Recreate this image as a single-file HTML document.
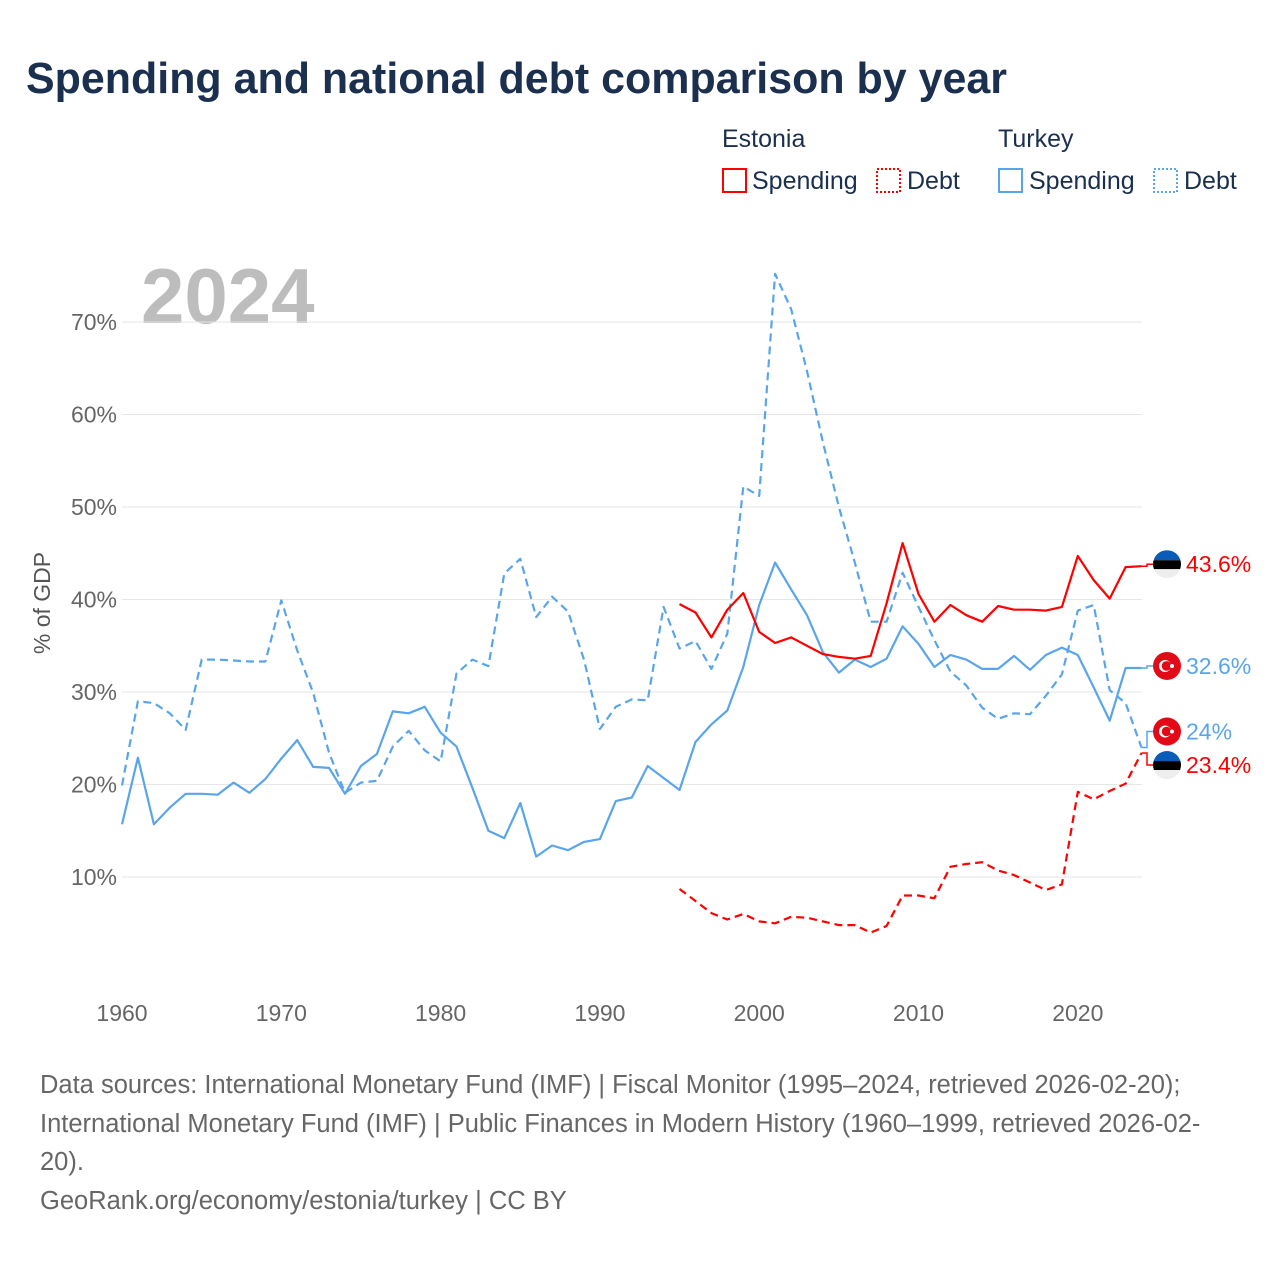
<!DOCTYPE html>
<html><head><meta charset="utf-8"><style>
body{margin:0;background:#fff;font-family:"Liberation Sans",sans-serif}
#wrap{position:relative;width:1280px;height:1280px;overflow:hidden}
</style></head><body><div id="wrap">
<svg id="svg" width="1280" height="1280" xmlns="http://www.w3.org/2000/svg">
<text x="26" y="93" font-size="44" font-weight="bold" fill="#1b2f4e" textLength="981" lengthAdjust="spacingAndGlyphs">Spending and national debt comparison by year</text>
<g font-size="25" fill="#1b2f4e">
<text x="722" y="147">Estonia</text>
<text x="998" y="147">Turkey</text>
<g><rect x="723" y="169" width="23" height="23" fill="none" stroke="#f00" stroke-width="2"/><text x="752" y="189">Spending</text></g>
<g><rect x="877" y="169" width="23" height="23" fill="none" stroke="#f00" stroke-width="2" stroke-dasharray="2,2"/><text x="907" y="189">Debt</text></g>
<g><rect x="999" y="169" width="23" height="23" fill="none" stroke="#5aa5ea" stroke-width="2"/><text x="1029" y="189">Spending</text></g>
<g><rect x="1154" y="169" width="23" height="23" fill="none" stroke="#5aa5ea" stroke-width="2" stroke-dasharray="2,2"/><text x="1184" y="189">Debt</text></g>
</g>
<text x="141" y="323" font-size="78" font-weight="bold" fill="#bdbdbd">2024</text>
<text transform="translate(50,603) rotate(-90)" text-anchor="middle" font-size="23" fill="#555">% of GDP</text>
<g id="grid"></g><g id="series"></g><g id="labels"></g>
<g font-size="25.5" fill="#666">
<text x="40" y="1093">Data sources: International Monetary Fund (IMF) | Fiscal Monitor (1995–2024, retrieved 2026-02-20);</text>
<text x="40" y="1132">International Monetary Fund (IMF) | Public Finances in Modern History (1960–1999, retrieved 2026-02-</text>
<text x="40" y="1170">20).</text>
<text x="40" y="1209">GeoRank.org/economy/estonia/turkey | CC BY</text>
</g>
</svg></div>
<script>
const yTicks=[10,20,30,40,50,60,70];
const xTicks=[1960,1970,1980,1990,2000,2010,2020];
const trYears=[1960,1961,1962,1963,1964,1965,1966,1967,1968,1969,1970,1971,1972,1973,1974,1975,1976,1977,1978,1979,1980,1981,1982,1983,1984,1985,1986,1987,1988,1989,1990,1991,1992,1993,1994,1995,1996,1997,1998,1999,2000,2001,2002,2003,2004,2005,2006,2007,2008,2009,2010,2011,2012,2013,2014,2015,2016,2017,2018,2019,2020,2021,2022,2023,2024];
const trSpending=[15.7,22.9,15.7,17.5,19.0,19.0,18.9,20.2,19.1,20.6,22.8,24.8,21.9,21.8,19.0,22.0,23.3,27.9,27.7,28.4,25.6,24.1,19.6,15.0,14.2,18.0,12.2,13.4,12.9,13.8,14.1,18.2,18.6,22.0,20.7,19.4,24.6,26.5,28.0,32.7,39.4,44.0,41.1,38.3,34.3,32.1,33.5,32.7,33.6,37.1,35.2,32.7,34.0,33.5,32.5,32.5,33.9,32.4,34.0,34.8,34.0,30.5,26.9,32.6,32.6];
const trDebt=[19.9,29.0,28.8,27.7,25.9,33.5,33.5,33.4,33.3,33.3,39.9,34.5,29.9,23.4,19.1,20.2,20.4,24.1,25.8,23.7,22.5,32.0,33.5,32.8,42.8,44.4,38.1,40.3,38.7,33.5,26.0,28.4,29.2,29.1,39.2,34.7,35.5,32.5,36.3,52.2,51.2,75.2,71.4,64.7,57.0,50.0,44.0,37.6,37.6,42.9,39.2,35.6,32.2,30.7,28.3,27.1,27.7,27.6,29.6,31.9,38.8,39.4,30.2,28.8,24.0];
const eeYears=[1995,1996,1997,1998,1999,2000,2001,2002,2003,2004,2005,2006,2007,2008,2009,2010,2011,2012,2013,2014,2015,2016,2017,2018,2019,2020,2021,2022,2023,2024];
const eeSpending=[39.5,38.6,35.9,38.9,40.7,36.5,35.3,35.9,35.0,34.1,33.8,33.6,33.9,39.6,46.1,40.6,37.6,39.4,38.3,37.6,39.3,38.9,38.9,38.8,39.2,44.7,42.1,40.1,43.5,43.6];
const eeDebt=[8.7,7.4,6.1,5.4,6.0,5.2,5.0,5.7,5.6,5.2,4.8,4.8,4.0,4.7,8.0,8.0,7.7,11.1,11.4,11.6,10.7,10.2,9.4,8.6,9.2,19.2,18.4,19.3,20.1,23.4];
const NS='http://www.w3.org/2000/svg';
const X=y=>122+(y-1960)*15.93;
const Y=v=>969.5-v*9.25;
function mk(tag,attrs,parent){const e=document.createElementNS(NS,tag);for(const k in attrs)e.setAttribute(k,attrs[k]);parent.appendChild(e);return e;}
const grid=document.getElementById('grid');
yTicks.forEach(t=>{
 const l=mk('line',{x1:122,x2:1142,y1:Y(t),y2:Y(t),stroke:'#e6e6e6','stroke-width':1},grid);
 
 
 const tx=mk('text',{x:117,y:Y(t)+8,'text-anchor':'end','font-size':23,fill:'#666'},grid);
 tx.textContent=t+'%';
 
 
});
xTicks.forEach(t=>{
 const tx=mk('text',{x:X(t),y:1021,'text-anchor':'middle','font-size':23,fill:'#666'},grid);
 tx.textContent=t;
 
 
});
const ser=document.getElementById('series');
function line(years,vals,color,dash,name){
 const d=years.map((y,i)=>(i?'L':'M')+X(y).toFixed(1)+','+Y(vals[i]).toFixed(1)).join('');
 const p=mk('path',{d:d,fill:'none',stroke:color,'stroke-width':2.2,'stroke-linejoin':'round'},ser);
 if(dash)p.setAttribute('stroke-dasharray','8,5');
 
 
}
line(trYears,trDebt,'#5aa5ea',true,'turkey-debt-line');
line(trYears,trSpending,'#5aa5ea',false,'turkey-spending-line');
line(eeYears,eeDebt,'#f00',true,'estonia-debt-line');
line(eeYears,eeSpending,'#f00',false,'estonia-spending-line');
const lab=document.getElementById('labels');
function flag(cx,cy,country){
 const g=mk('g',{},lab);
 
 
 if(country==='estonia'){
  mk('clipPath',{id:'c'+Math.round(cy)},g);
  const cp=g.lastChild;mk('circle',{cx:cx,cy:cy,r:14},cp);
  const gg=mk('g',{'clip-path':'url(#c'+Math.round(cy)+')'},g);
  mk('rect',{x:cx-14,y:cy-14,width:28,height:10,fill:'#0a5cb8'},gg);
  mk('rect',{x:cx-14,y:cy-4,width:28,height:9,fill:'#000'},gg);
  mk('rect',{x:cx-14,y:cy+5,width:28,height:10,fill:'#eee'},gg);
 }else{
  mk('circle',{cx:cx,cy:cy,r:14,fill:'#e30a17'},g);
  mk('circle',{cx:cx-2,cy:cy,r:6,fill:'#fff'},g);
  mk('circle',{cx:cx-0.5,cy:cy,r:4.8,fill:'#e30a17'},g);
  mk('circle',{cx:cx+5,cy:cy,r:2,fill:'#fff'},g);
 }
}
function endLabel(val,ly,color,txt,country,name){
 const ex=X(2024),ey=Y(val);
 const l=mk('path',{d:`M${ex},${ey}H1147V${ly}H1153`,fill:'none',stroke:color,'stroke-width':1.5},lab);
 
 
 flag(1167,ly,country);
 const t=mk('text',{x:1186,y:ly+8,'font-size':23,fill:color},lab);
 t.textContent=txt;
 
 
}
const eeS=eeSpending[eeSpending.length-1],trS=trSpending[trSpending.length-1],trD=trDebt[trDebt.length-1],eeD=eeDebt[eeDebt.length-1];
endLabel(eeS,Y(eeS)-2,'#f00',eeS+'%','estonia','estonia-spending');
endLabel(trS,Y(trS)-2,'#5aa5ea',trS+'%','turkey','turkey-spending');
endLabel(trD,Y(trD)-16,'#5aa5ea',trD+'%','turkey','turkey-debt');
endLabel(eeD,Y(eeD)+12,'#f00',eeD+'%','estonia','estonia-debt');
</script></body></html>
